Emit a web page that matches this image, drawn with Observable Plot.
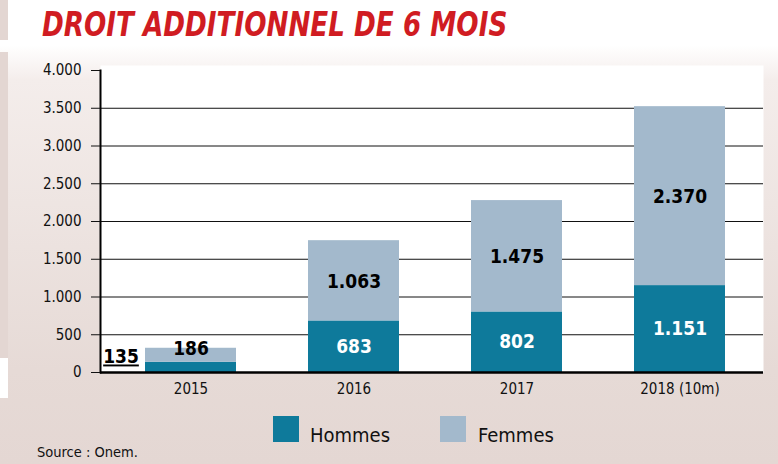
<!DOCTYPE html>
<html>
<head>
<meta charset="utf-8">
<script src="https://cdn.jsdelivr.net/npm/d3@7"></script>
<script src="https://cdn.jsdelivr.net/npm/@observablehq/plot@0.6"></script>
<style>
  html, body { margin: 0; padding: 0; }
  body {
    width: 778px; height: 464px; position: relative; overflow: hidden;
    background: linear-gradient(to bottom, #ffffff 0px, #ffffff 45px, #f4edeb 80px, #e6dad6 370px, #e4d7d3 464px);
    font-family: "DejaVu Sans Condensed", "DejaVu Sans", sans-serif;
  }
  .abs { position: absolute; }
  #title {
    left: 42px; top: 8px; line-height: 33px; font-size: 33px;
    transform: scaleX(0.883); transform-origin: 0 0;
    font-family: "DejaVu Sans Condensed", "DejaVu Sans", sans-serif;
    font-weight: bold; font-style: italic; color: #d01c22; white-space: nowrap;
  }
  .sw { width: 26px; height: 26px; }
  .lg { font-size: 20px; line-height: 20px; color: #111; white-space: nowrap; }
  #source { left: 37px; top: 445px; font-size: 14.5px; line-height: 15px; color: #111; white-space: nowrap; }
  #plot svg { position: absolute; left: 0; top: 0; }
</style>
</head>
<body>
<div class="abs" style="left:0;top:0;width:8px;height:40px;background:#e3d6d2"></div>
<div class="abs" style="left:0;top:52px;width:8px;height:306px;background:#e3d6d2"></div>
<div class="abs" style="left:0;top:358px;width:8px;height:40px;background:#ffffff"></div>
<div id="title" class="abs">DROIT ADDITIONNEL DE 6 MOIS</div>
<div id="plot"></div>
<div id="legend"></div>
<div id="source" class="abs">Source : Onem.</div>
<script>
// ---- data ----
const years = ["2015", "2016", "2017", "2018 (10m)"];
const hommes = [135, 683, 802, 1151];
const femmes = [186, 1063, 1475, 2370];
const series = ["Hommes", "Femmes"];
const colors = ["#0e7a9b", "#a3b9cc"];
const yTicks = [0, 500, 1000, 1500, 2000, 2500, 3000, 3500, 4000];
const gridTicks = [500, 1000, 1500, 2000, 2500, 3000, 3500];

const fmt = d3.formatLocale({decimal: ",", thousands: ".", grouping: [3], currency: ["", "€"]}).format(",d");

const rows = [];
years.forEach((y, i) => {
  rows.push({year: y, sex: "Hommes", value: hommes[i]});
  rows.push({year: y, sex: "Femmes", value: femmes[i]});
});

const homLabels = years.map((y, i) => ({year: y, y: hommes[i] / 2, text: fmt(hommes[i]), first: i === 0}));
const femLabels = years.map((y, i) => ({
  year: y,
  y: i === 0 ? hommes[i] + femmes[i] : hommes[i] + femmes[i] / 2,
  text: fmt(femmes[i]),
  first: i === 0
}));

const font = "DejaVu Sans Condensed, DejaVu Sans, sans-serif";

const chart = Plot.plot({
  width: 778,
  height: 464,
  marginTop: 70,
  marginBottom: 92,
  marginLeft: 100,
  marginRight: 15,
  style: {background: "transparent", fontFamily: font, color: "#111"},
  x: {domain: years, paddingInner: 0.443, paddingOuter: 0.25, align: 0.54, label: null},
  y: {domain: [0, 4000], label: null},
  color: {domain: series, range: colors},
  marks: [
    Plot.frame({fill: "white", stroke: null, insetTop: -5}),
    Plot.gridY(gridTicks, {stroke: "#111", strokeOpacity: 1, strokeWidth: 1}),
    Plot.barY(rows, {x: "year", y: "value", fill: "sex", inset: 0}),
    Plot.ruleY([0], {stroke: "#000", strokeWidth: 2.5}),
    Plot.frame({anchor: "left", stroke: "#000", strokeWidth: 2}),
    Plot.axisY(yTicks, {tickSize: 9, tickPadding: 10, tickFormat: fmt, fontSize: 15, color: "#111", label: null}),
    Plot.axisX({tickSize: 0, tickPadding: 11, fontSize: 15, color: "#111", label: null}),
    Plot.text(homLabels.filter(d => !d.first), {x: "year", y: "y", text: "text", fill: "white", fontSize: 19, fontWeight: "bold"}),
    Plot.text(homLabels.filter(d => d.first), {x: "year", y: "y", text: "text", fill: "#000", fontSize: 19, fontWeight: "bold", dx: -70, dy: -10, className: "under"}),
    Plot.text(femLabels, {x: "year", y: "y", text: "text", fill: "#000", fontSize: 19, fontWeight: "bold", dy: 1})
  ]
});
document.getElementById("plot").appendChild(chart);
chart.querySelectorAll(".under text").forEach(t => t.setAttribute("text-decoration", "underline"));

// legend
const leg = document.getElementById("legend");
const legPos = [{sx: 273, tx: 310}, {sx: 440, tx: 478}];
series.forEach((s, i) => {
  const sw = document.createElement("div");
  sw.className = "abs sw";
  sw.style.left = legPos[i].sx + "px";
  sw.style.top = "416px";
  sw.style.background = colors[i];
  leg.appendChild(sw);
  const tx = document.createElement("div");
  tx.className = "abs lg";
  tx.style.left = legPos[i].tx + "px";
  tx.style.top = "425px";
  tx.textContent = s;
  leg.appendChild(tx);
});
</script>
</body>
</html>
